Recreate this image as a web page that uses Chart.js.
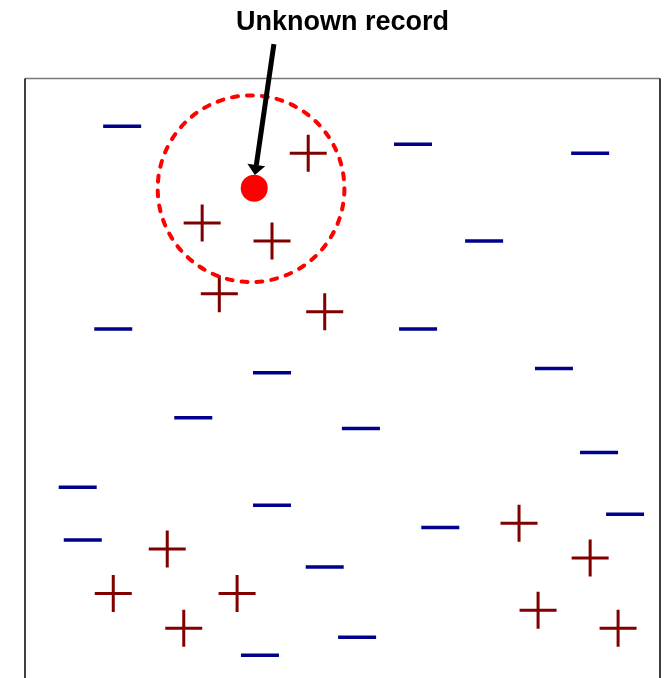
<!DOCTYPE html>
<html>
<head>
<meta charset="utf-8">
<script src="https://cdn.jsdelivr.net/npm/chart.js@4.4.0/dist/chart.umd.min.js"></script>
<style>
  html, body { margin: 0; padding: 0; background: #fff; }
  #wrap { width: 664px; height: 678px; }
</style>
</head>
<body>
<div id="wrap"><canvas id="myChart"></canvas></div>
<script>
// records of class "-" (x, y)
var minusX = [1.53, 6.11, 8.90, 7.23, 1.39, 6.19, 3.89, 8.33, 2.65, 5.29, 9.04, 0.83, 3.89, 9.45, 0.91, 6.54, 4.72, 5.23, 3.70];
var minusY = [9.20, 8.90, 8.75, 7.29, 5.82, 5.82, 5.09, 5.16, 4.34, 4.16, 3.76, 3.18, 2.88, 2.73, 2.30, 2.51, 1.85, 0.68, 0.38];

// records of class "+" (x, y)
var plusX = [4.46, 2.79, 3.89, 3.06, 4.72, 7.78, 2.24, 8.90, 1.39, 3.34, 8.08, 2.50, 9.34];
var plusY = [8.75, 7.59, 7.29, 6.41, 6.11, 2.58, 2.15, 2.00, 1.41, 1.41, 1.13, 0.83, 0.83];

// the unknown record
var unknownX = [3.61];
var unknownY = [8.17];

// neighbourhood circle (centre + radius in x units) and arrow from label
var circleCenter = [3.56, 8.16];
var circleRadius = 1.47;
var arrowFrom = [3.92, 10.57];
var arrowTo = [3.62, 8.39];

function toPoints(xs, ys) {
  return xs.map(function(x, i){ return { x: x, y: ys[i] }; });
}

// box round the plot: top, left, right (no bottom, it runs off the page)
var boxPlugin = {
  id: 'boxLines',
  beforeDatasetsDraw: function(chart) {
    var ctx = chart.ctx, a = chart.chartArea;
    ctx.save();
    ctx.lineWidth = 1.5;
    ctx.strokeStyle = '#7a7a7a';
    ctx.beginPath();
    ctx.moveTo(a.left, a.top);
    ctx.lineTo(a.right, a.top);
    ctx.stroke();
    ctx.strokeStyle = '#000';
    ctx.beginPath();
    ctx.moveTo(a.left, a.top);
    ctx.lineTo(a.left, a.bottom + 2);
    ctx.moveTo(a.right, a.top);
    ctx.lineTo(a.right, a.bottom + 2);
    ctx.stroke();
    ctx.restore();
  }
};

// dashed circle + arrow
var annotPlugin = {
  id: 'annot',
  afterDatasetsDraw: function(chart) {
    var ctx = chart.ctx, xs = chart.scales.x, ys = chart.scales.y;
    var cx = xs.getPixelForValue(circleCenter[0]);
    var cy = ys.getPixelForValue(circleCenter[1]);
    var r = xs.getPixelForValue(circleCenter[0] + circleRadius) - cx;
    ctx.save();
    ctx.strokeStyle = '#ff0000';
    ctx.lineWidth = 4;
    ctx.lineCap = 'round';
    ctx.setLineDash([6, 9]);
    ctx.beginPath();
    ctx.arc(cx, cy, r, 0, Math.PI * 2);
    ctx.stroke();
    ctx.restore();

    var x1 = xs.getPixelForValue(arrowFrom[0]), y1 = ys.getPixelForValue(arrowFrom[1]);
    var x2 = xs.getPixelForValue(arrowTo[0]), y2 = ys.getPixelForValue(arrowTo[1]);
    var ang = Math.atan2(y2 - y1, x2 - x1);
    var headLen = 10, headW = 9;
    var bx = x2 - Math.cos(ang) * headLen, by = y2 - Math.sin(ang) * headLen;
    ctx.save();
    ctx.strokeStyle = '#000';
    ctx.fillStyle = '#000';
    ctx.lineWidth = 5;
    ctx.beginPath();
    ctx.moveTo(x1, y1);
    ctx.lineTo(bx, by);
    ctx.stroke();
    ctx.beginPath();
    ctx.moveTo(x2, y2);
    ctx.lineTo(bx + Math.sin(ang) * headW, by - Math.cos(ang) * headW);
    ctx.lineTo(bx - Math.sin(ang) * headW, by + Math.cos(ang) * headW);
    ctx.closePath();
    ctx.fill();
    ctx.restore();
  }
};

var ctx = document.getElementById('myChart').getContext('2d');
var myChart = new Chart(ctx, {
  type: 'scatter',
  data: {
    datasets: [{
      label: '-',
      data: toPoints(minusX, minusY),
      pointStyle: 'line',
      pointRadius: 19,
      pointHoverRadius: 19,
      borderWidth: 3.5,
      borderColor: '#00008b',
      backgroundColor: '#00008b',
      clip: false
    }, {
      label: '+',
      data: toPoints(plusX, plusY),
      pointStyle: 'cross',
      pointRadius: 18.5,
      pointHoverRadius: 18.5,
      borderWidth: 3,
      borderColor: '#800000',
      backgroundColor: '#800000',
      clip: false
    }, {
      label: 'Unknown record',
      data: toPoints(unknownX, unknownY),
      pointStyle: 'circle',
      pointRadius: 13.5,
      pointHoverRadius: 13.5,
      borderWidth: 0,
      borderColor: '#ff0000',
      backgroundColor: '#ff0000',
      clip: false
    }]
  },
  plugins: [boxPlugin, annotPlugin],
  options: {
    responsive: true,
    maintainAspectRatio: false,
    animation: false,
    layout: {
      autoPadding: false,
      padding: { top: 0, left: 25, right: 4, bottom: 0 }
    },
    plugins: {
      legend: { display: false },
      tooltip: { enabled: false },
      title: {
        display: true,
        text: 'Unknown record',
        color: '#000',
        font: { family: '"Liberation Sans", Arial, sans-serif', size: 27, weight: 'bold', lineHeight: 1.2 },
        padding: { top: 6, bottom: 40 }
      }
    },
    scales: {
      x: { type: 'linear', min: 0, max: 10, display: false },
      y: { type: 'linear', min: 0, max: 10, display: false }
    }
  }
});
</script>
</body>
</html>
